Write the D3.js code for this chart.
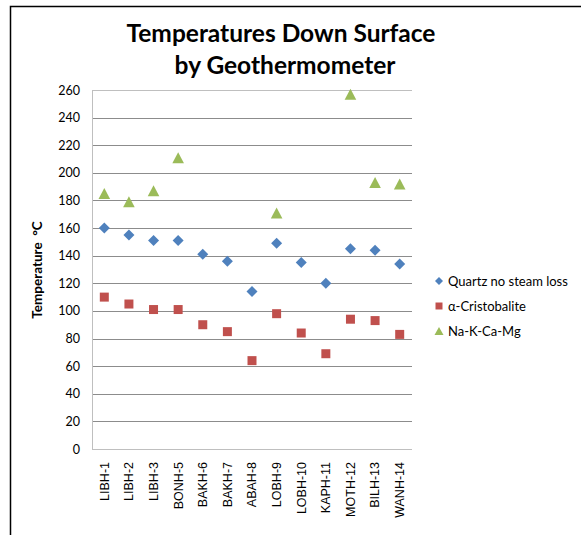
<!DOCTYPE html>
<html>
<head>
<meta charset="utf-8">
<script src="https://cdn.jsdelivr.net/npm/d3@7"></script>
<style>
    body { margin: 0; background: #fff; }
    svg { display: block; }
</style>
</head>
<body>
<script>
var wells = ['LIBH-1', 'LIBH-2', 'LIBH-3', 'BONH-5', 'BAKH-6', 'BAKH-7', 'ABAH-8',
    'LOBH-9', 'LOBH-10', 'KAPH-11', 'MOTH-12', 'BILH-13', 'WANH-14'];
var quartz = [160, 155, 151, 151, 141, 136, 114, 149, 135, 120, 145, 144, 134];
var cristobalite = [110, 105, 101, 101, 90, 85, 64, 98, 84, 69, 94, 93, 83];
var nakcamg = [185, 179, 187, 211, null, null, null, 171, null, null, 257, 193, 192];
var yTicks = [0, 20, 40, 60, 80, 100, 120, 140, 160, 180, 200, 220, 240, 260];

var series = [
    {name: 'Quartz no steam loss', values: quartz, color: '#4F81BD', shape: 'diamond'},
    {name: '\u03B1-Cristobalite', values: cristobalite, color: '#C0504D', shape: 'square'},
    {name: 'Na-K-Ca-Mg', values: nakcamg, color: '#9BBB59', shape: 'triangle'}
];

var W = 581, H = 535;
var plot = {left: 92, right: 412, top: 90, bottom: 449};

var svg = d3.select('body').append('svg')
    .attr('width', W)
    .attr('height', H);

// outer chart frame (runs off the right and bottom of the picture)
svg.append('rect')
    .attr('x', 10.5).attr('y', 6.5)
    .attr('width', W).attr('height', H)
    .attr('fill', 'none')
    .attr('stroke', '#000')
    .attr('stroke-width', 1.5);

var x = d3.scaleBand().domain(wells).range([plot.left, plot.right]);
var y = d3.scaleLinear().domain([0, 260]).range([plot.bottom, plot.top]);

// gridlines
svg.append('g')
    .selectAll('line')
    .data(yTicks)
    .enter().append('line')
    .attr('x1', plot.left).attr('x2', plot.right)
    .attr('y1', function(d) { return Math.round(y(d)) + 0.5; })
    .attr('y2', function(d) { return Math.round(y(d)) + 0.5; })
    .attr('stroke', function(d) { return (d === 0 || d === 260) ? '#bfbfbf' : '#8c8c8c'; })
    .attr('stroke-width', 1);

svg.append('line')
    .attr('x1', plot.left + 0.5).attr('x2', plot.left + 0.5)
    .attr('y1', plot.top).attr('y2', Math.round(plot.bottom) + 0.5)
    .attr('stroke', '#bfbfbf');

// y axis labels
var yAxis = d3.axisLeft(y).tickValues(yTicks).tickSize(0).tickPadding(12);
var gy = svg.append('g')
    .attr('transform', 'translate(' + plot.left + ',0)')
    .call(yAxis);
gy.select('.domain').remove();
gy.selectAll('text')
    .attr('font-family', 'Lato, "Open Sans", sans-serif')
    .attr('font-size', 12.5)
    .attr('fill', '#000');

// x axis labels (rotated)
var xAxis = d3.axisBottom(x).tickSize(0).tickPadding(0);
var gx = svg.append('g')
    .attr('transform', 'translate(0,' + plot.bottom + ')')
    .call(xAxis);
gx.select('.domain').remove();
gx.selectAll('text')
    .attr('font-family', '"Liberation Sans", Arial, sans-serif')
    .attr('font-size', 12.5)
    .attr('fill', '#000')
    .attr('text-anchor', 'end')
    .attr('dy', '0.35em')
    .attr('transform', 'translate(0,13) rotate(-90)');

// y axis title
svg.append('text')
    .attr('transform', 'translate(42,270) rotate(-90)')
    .attr('text-anchor', 'middle')
    .attr('font-family', 'Lato, "Open Sans", sans-serif')
    .attr('font-weight', 'bold')
    .attr('font-size', 13.5)
    .attr('xml:space', 'preserve')
    .text('Temperature  \u00B0C');

// chart title
var title = svg.append('text')
    .attr('text-anchor', 'middle')
    .attr('font-family', 'Lato, "Open Sans", sans-serif')
    .attr('font-weight', 'bold')
    .attr('font-size', 24.5)
    .attr('fill', '#000');
title.append('tspan').attr('x', 281).attr('y', 42).text('Temperatures Down Surface');
title.append('tspan').attr('x', 285).attr('y', 74).text('by Geothermometer');

function markerPath(shape) {
    if(shape === 'diamond') return 'M0,-5.5L5.5,0L0,5.5L-5.5,0Z';
    if(shape === 'square') return 'M-4.5,-4.5H4.5V4.5H-4.5Z';
    return 'M0,-5.5L5.8,5.5L-5.8,5.5Z';
}

// markers
series.forEach(function(s) {
    svg.append('g')
        .selectAll('path')
        .data(s.values.map(function(v, i) { return {well: wells[i], v: v}; })
            .filter(function(d) { return d.v !== null; }))
        .enter().append('path')
        .attr('d', markerPath(s.shape))
        .attr('transform', function(d) {
            return 'translate(' + (x(d.well) + x.bandwidth() / 2) + ',' + y(d.v) + ')';
        })
        .attr('fill', s.color);
});

// legend
var legend = svg.append('g')
    .selectAll('g')
    .data(series)
    .enter().append('g')
    .attr('transform', function(d, i) { return 'translate(439,' + (281 + i * 25) + ')'; });

legend.append('path')
    .attr('d', function(d) {
        if(d.shape === 'diamond') return 'M0,-4L4,0L0,4L-4,0Z';
        if(d.shape === 'square') return 'M-3.5,-3.5H3.5V3.5H-3.5Z';
        return 'M0,-4L4.5,4L-4.5,4Z';
    })
    .attr('fill', function(d) { return d.color; });

legend.append('text')
    .attr('x', 9)
    .attr('dy', '0.35em')
    .attr('font-family', 'Lato, "Open Sans", sans-serif')
    .attr('font-size', 13)
    .attr('fill', '#000')
    .text(function(d) { return d.name; });
</script>
</body>
</html>
